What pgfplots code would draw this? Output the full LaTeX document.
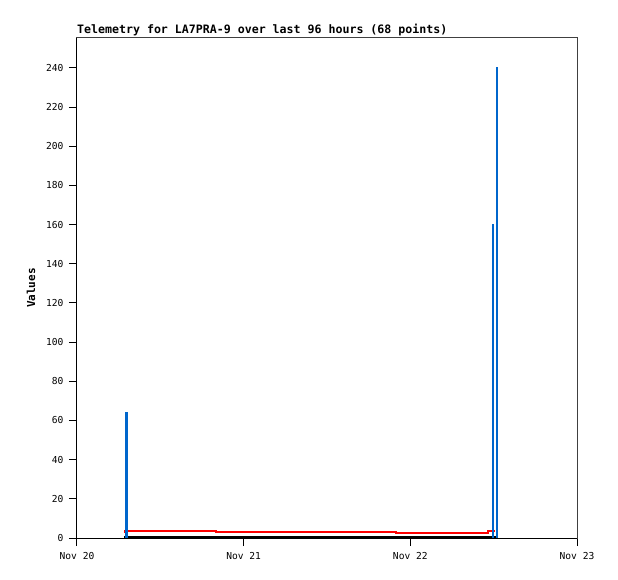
\documentclass[border=0pt]{standalone}
\usepackage{fontspec}
\setmainfont{DejaVu Sans Mono}
\usepackage{pgfplots}
\pgfplotsset{compat=1.18}
\definecolor{bluebar}{RGB}{0,102,204}
\definecolor{framegray}{RGB}{64,64,64}
\begin{document}
\begin{tikzpicture}[x=1pt,y=1pt]
\begin{axis}[
  scale only axis,
  width=500pt, height=500pt,
  xmin=0, xmax=72, ymin=0, ymax=255.3,
  axis line style={framegray, line width=1pt},
  xtick={0,24,48,72},
  xticklabels={Nov 20,Nov 21,Nov 22,Nov 23},
  ytick={0,20,...,240},
  tick align=outside,
  xtick pos=left, ytick pos=left,
  major tick length=8pt,
  tick style={black, line width=1pt},
  /pgf/number format/assume math mode=true,
  tick label style={font=\fontsize{9.6}{10}\selectfont},
  xticklabel style={yshift=-3pt},
  yticklabel style={xshift=-2pt},
  ylabel={\bfseries Values},
  ylabel style={font=\fontsize{11}{12}\selectfont, at={(rel axis cs:-0.092,0.5)}, anchor=center, rotate=0},
  clip=false,
]
\draw[black, line width=1pt] (rel axis cs:0,1) -- (rel axis cs:0,0) -- (rel axis cs:1,0);
\coordinate (O) at (rel axis cs:0,0);
\coordinate (T) at (rel axis cs:0,1);
% black zero series
\addplot[black, line width=2pt, no marks] coordinates {(6.8,0.4) (60.5,0.4)};
% red series
\addplot[red, line width=2.2pt, no marks, const plot] coordinates {
(6.75,3.1) (6.9,3.7) (20.0,3.1) (45.9,2.6) (59.2,3.6) (60.2,3.6)};
% blue spikes
\addplot[bluebar, line width=2.3pt, ycomb, no marks] coordinates {
(7.13,64.5) (59.9,160.4) (60.5,240.7)};
\end{axis}
\node[anchor=south west, inner sep=0pt, font=\fontsize{11.6}{12}\selectfont\bfseries] at ([yshift=2pt]T) {Telemetry for LA7PRA-9 over last 96 hours (68 points)};
\path (O) ++(-77pt,-41pt) rectangle ++(618pt,579pt);
\end{tikzpicture}
\end{document}
